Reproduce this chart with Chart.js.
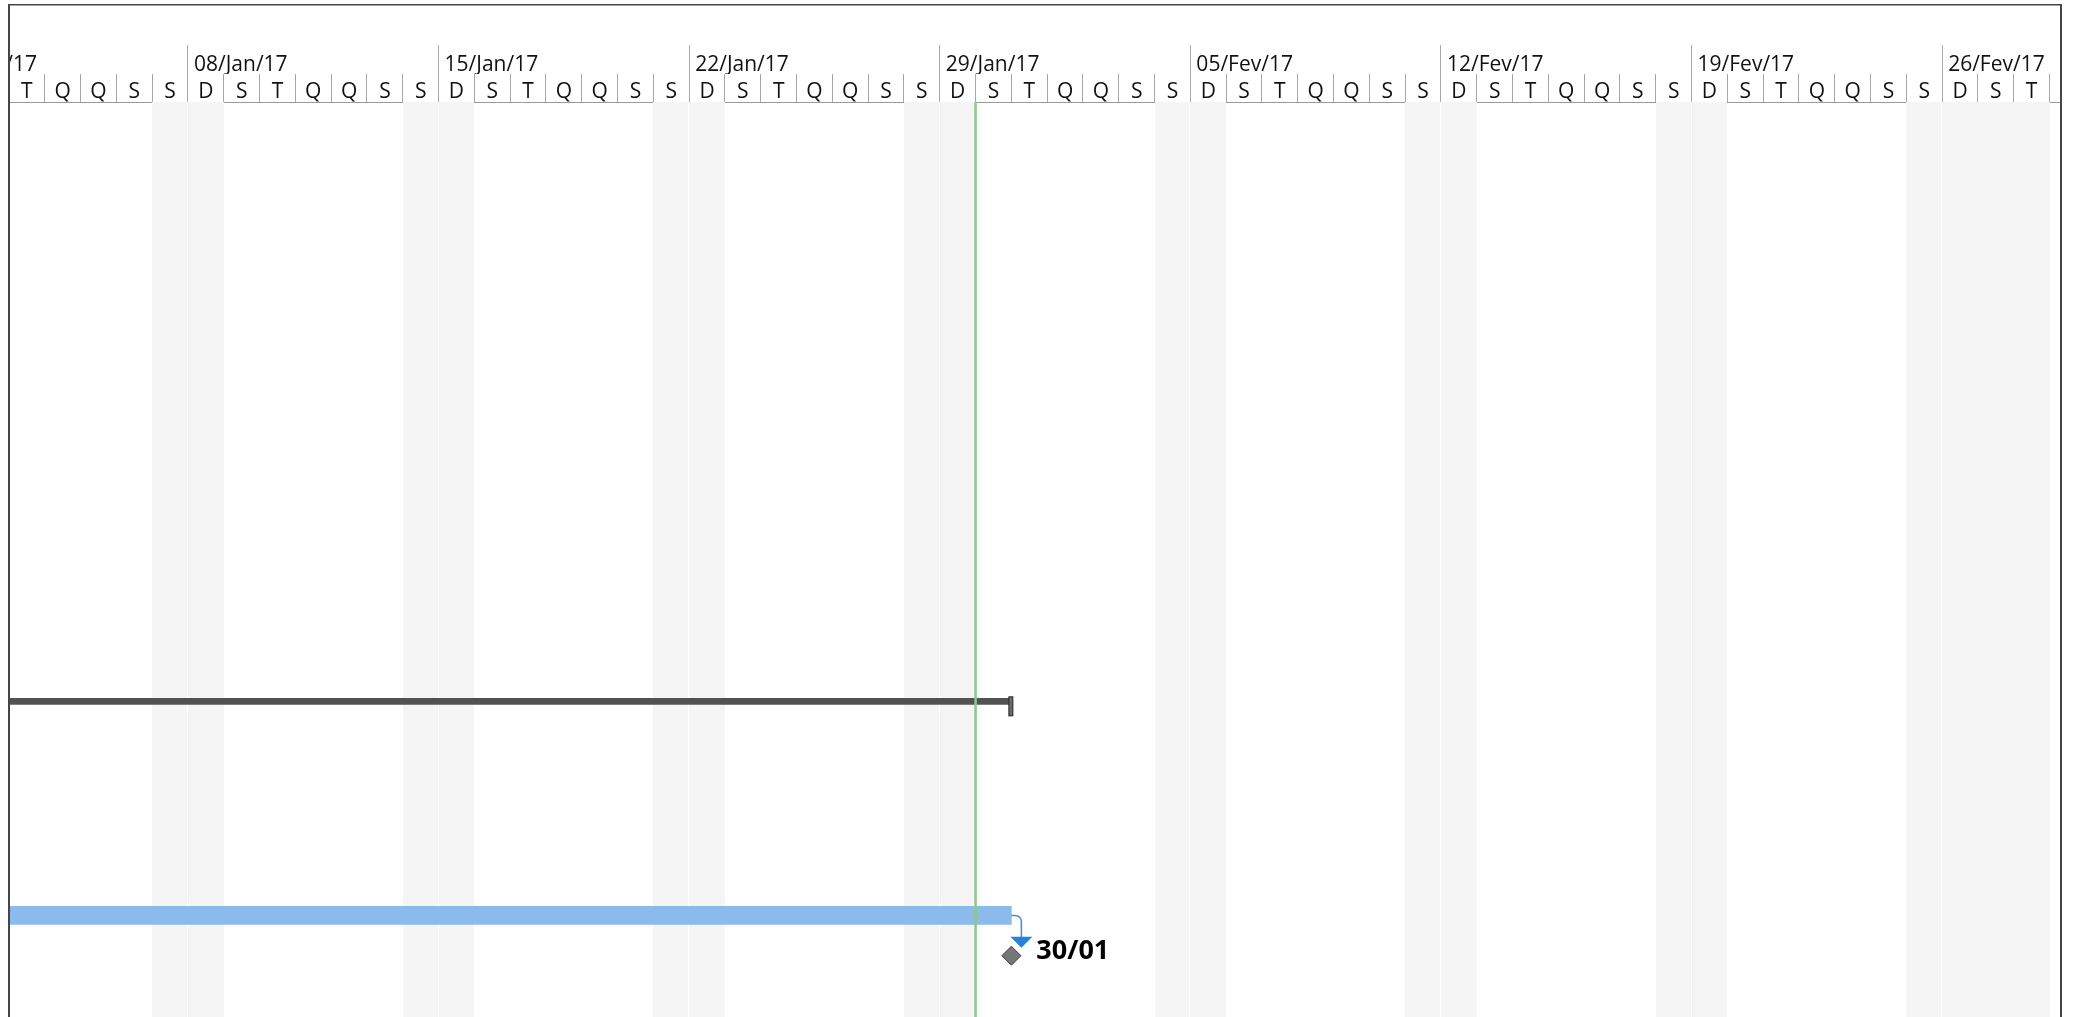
<!DOCTYPE html>
<html><head><meta charset="utf-8">
<script src="https://cdn.jsdelivr.net/npm/chart.js@4.4.1/dist/chart.umd.min.js"></script>
<style>html,body{margin:0;padding:0;background:#fff;overflow:hidden}canvas{display:block}</style>
</head><body>
<canvas id="c" width="2078" height="1017"></canvas>
<script>
// Day numbers: day 0 = 01/Jan/17 (Sunday)
const weekStarts = [0, 7, 14, 21, 28, 35, 42, 49, 56];
const weekLabels = ['01/Jan/17','08/Jan/17','15/Jan/17','22/Jan/17','29/Jan/17','05/Fev/17','12/Fev/17','19/Fev/17','26/Fev/17'];
const dayLetters = ['D','S','T','Q','Q','S','S'];
const firstVisibleDay = 2;   // 03/Jan/17
const lastVisibleDay = 58;   // 28/Fev/17
const viewEnd = 59.32;       // a little into 01/Mar/17
const nonWorkingDays = [6,7,13,14,20,21,27,28,34,35,41,42,48,49,55,56,57,58];
const todayDay = 29;         // 30/Jan/17
const rowNames = ['Resumo', 'Tarefa', 'Marco'];
const rowPos = [65.5, 88.9, 93.3];
const summaryRange = [-20, 30];
const taskRange = [-20, 30];
const milestoneDay = 30;
const milestoneLabel = '30/01';

const dayTickValues = [];
const dayTickLabels = [];
for (let d = firstVisibleDay; d <= lastVisibleDay; d++) {
  dayTickValues.push(d + 0.5);
  dayTickLabels.push(dayLetters[d % 7]);
}

const FONT = '"Open Sans", "Noto Sans", sans-serif';
const gridColor = '#a9a9a9';

const ganttDecor = {
  id: 'ganttDecor',
  beforeDatasetsDraw(chart) {
    const {ctx, chartArea: a} = chart;
    const x = chart.scales.xDay;
    ctx.save();
    ctx.beginPath();
    ctx.rect(a.left, a.top, a.right - a.left, a.bottom - a.top);
    ctx.clip();
    ctx.fillStyle = '#f5f5f5';
    nonWorkingDays.forEach(d => {
      const x0 = Math.round(x.getPixelForValue(d));
      const x1 = Math.round(x.getPixelForValue(d + 1));
      ctx.fillRect(x0, a.top, x1 - x0, a.bottom - a.top);
    });
    ctx.fillStyle = '#ffffff';
    weekStarts.forEach(w => {
      const px = Math.round(x.getPixelForValue(w));
      ctx.fillRect(px - 1, a.top, 1, a.bottom - a.top);
    });
    ctx.restore();
  },
  afterDatasetsDraw(chart) {
    const {ctx, chartArea: a} = chart;
    const x = chart.scales.xDay, y = chart.scales.y;
    ctx.save();
    // summary end cap
    const sx = x.getPixelForValue(summaryRange[1]);
    const sy = y.getPixelForValue(rowPos[0]);
    ctx.fillStyle = '#6a6a6a';
    ctx.strokeStyle = '#262626';
    ctx.lineWidth = 1;
    ctx.fillRect(sx - 2.5, sy - 4.5, 4, 19);
    ctx.strokeRect(sx - 2.5, sy - 4.5, 4, 19);
    // link connector task -> milestone
    const tx = x.getPixelForValue(taskRange[1]);
    const ty = y.getPixelForValue(rowPos[1]);
    const mx = x.getPixelForValue(milestoneDay);
    const my = y.getPixelForValue(rowPos[2]);
    const ax = mx + 10, r = 6, triTop = my - 19;
    ctx.strokeStyle = '#3d8ee0';
    ctx.lineWidth = 1.5;
    ctx.beginPath();
    ctx.moveTo(tx, ty);
    ctx.lineTo(ax - r, ty);
    ctx.arcTo(ax, ty, ax, ty + r, r);
    ctx.lineTo(ax, triTop + 1);
    ctx.stroke();
    ctx.fillStyle = '#2a7fd9';
    ctx.beginPath();
    ctx.moveTo(ax - 11, triTop);
    ctx.lineTo(ax + 11, triTop);
    ctx.lineTo(ax, my - 8);
    ctx.closePath();
    ctx.fill();
    // milestone label
    ctx.font = 'bold 27px ' + FONT;
    ctx.fillStyle = '#000';
    ctx.textBaseline = 'alphabetic';
    ctx.textAlign = 'left';
    ctx.fillText(milestoneLabel, mx + 25, my + 3.5);
    // today line
    const gx = x.getPixelForValue(todayDay);
    ctx.strokeStyle = '#8cc98c';
    ctx.lineWidth = 2.5;
    ctx.beginPath();
    ctx.moveTo(gx, a.top);
    ctx.lineTo(gx, a.bottom);
    ctx.stroke();
    ctx.restore();
  },
  afterDraw(chart) {
    const {ctx, chartArea: a} = chart;
    const top = chart.scales.xWeek.top;
    ctx.save();
    // timescale is cut off at the frame: hide label parts left of it
    ctx.fillStyle = '#ffffff';
    ctx.fillRect(0, 0, a.left - 1, chart.height);
    ctx.fillStyle = '#454545';
    ctx.fillRect(a.left - 1, top, a.right - a.left + 2, 1.5);
    ctx.fillRect(a.left - 1, top, 2, chart.height - top);
    ctx.fillRect(a.right - 1, top, 2, chart.height - top);
    ctx.restore();
  }
};

const noSidePadding = (s, h) => { s.height = h; s.paddingLeft = 0; s.paddingRight = 0; };

new Chart(document.getElementById('c'), {
  type: 'bar',
  data: {
    datasets: [
      {
        label: rowNames[0],
        data: [{x: summaryRange, y: rowPos[0]}],
        xAxisID: 'xDay', yAxisID: 'y',
        backgroundColor: '#525252',
        barThickness: 6,
        grouped: false,
        borderWidth: 0
      },
      {
        label: rowNames[1],
        data: [{x: taskRange, y: rowPos[1]}],
        xAxisID: 'xDay', yAxisID: 'y',
        backgroundColor: '#8bbbeb',
        barThickness: 18,
        grouped: false,
        borderWidth: 0
      },
      {
        type: 'scatter',
        label: rowNames[2],
        data: [{x: milestoneDay, y: rowPos[2]}],
        xAxisID: 'xDay', yAxisID: 'y',
        pointStyle: 'rectRot',
        pointRadius: 9.5,
        pointHoverRadius: 9.5,
        backgroundColor: '#777777',
        borderColor: '#3a3a3a',
        borderWidth: 1
      }
    ]
  },
  options: {
    indexAxis: 'y',
    responsive: false,
    animation: false,
    devicePixelRatio: 1,
    layout: {autoPadding: false, padding: {top: 4, left: 9, right: 17, bottom: 0}},
    plugins: {legend: {display: false}, tooltip: {enabled: false}},
    events: [],
    scales: {
      xDay: {
        type: 'linear', axis: 'x', position: 'top', weight: 0,
        min: firstVisibleDay, max: viewEnd, bounds: 'data', offset: false,
        afterBuildTicks: s => { s.ticks = dayTickValues.map(v => ({value: v})); },
        afterFit: s => noSidePadding(s, 28),
        ticks: {
          autoSkip: false, maxRotation: 0, minRotation: 0,
          align: 'center', padding: -31,
          color: '#111', font: {family: FONT, size: 21},
          callback: (v, i) => dayTickLabels[i]
        },
        grid: {offset: true, drawOnChartArea: false, drawTicks: true, tickLength: 28, color: gridColor, lineWidth: 1},
        border: {display: true, color: '#9a9a9a', width: 1}
      },
      xWeek: {
        type: 'linear', axis: 'x', position: 'top', weight: 1,
        min: firstVisibleDay, max: viewEnd, bounds: 'data', offset: false,
        afterBuildTicks: s => { s.ticks = weekStarts.map(v => ({value: v})); },
        afterFit: s => noSidePadding(s, 70),
        ticks: {
          autoSkip: false, maxRotation: 0, minRotation: 0,
          align: 'start', labelOffset: 6, padding: -33,
          color: '#111', font: {family: FONT, size: 21},
          callback: (v, i) => weekLabels[i]
        },
        grid: {drawOnChartArea: false, drawTicks: true, tickLength: 29, color: gridColor, lineWidth: 1},
        border: {display: false}
      },
      y: {type: 'linear', min: 0, max: 100, reverse: true, offset: false, display: false}
    }
  },
  plugins: [ganttDecor]
});
</script>
</body></html>
